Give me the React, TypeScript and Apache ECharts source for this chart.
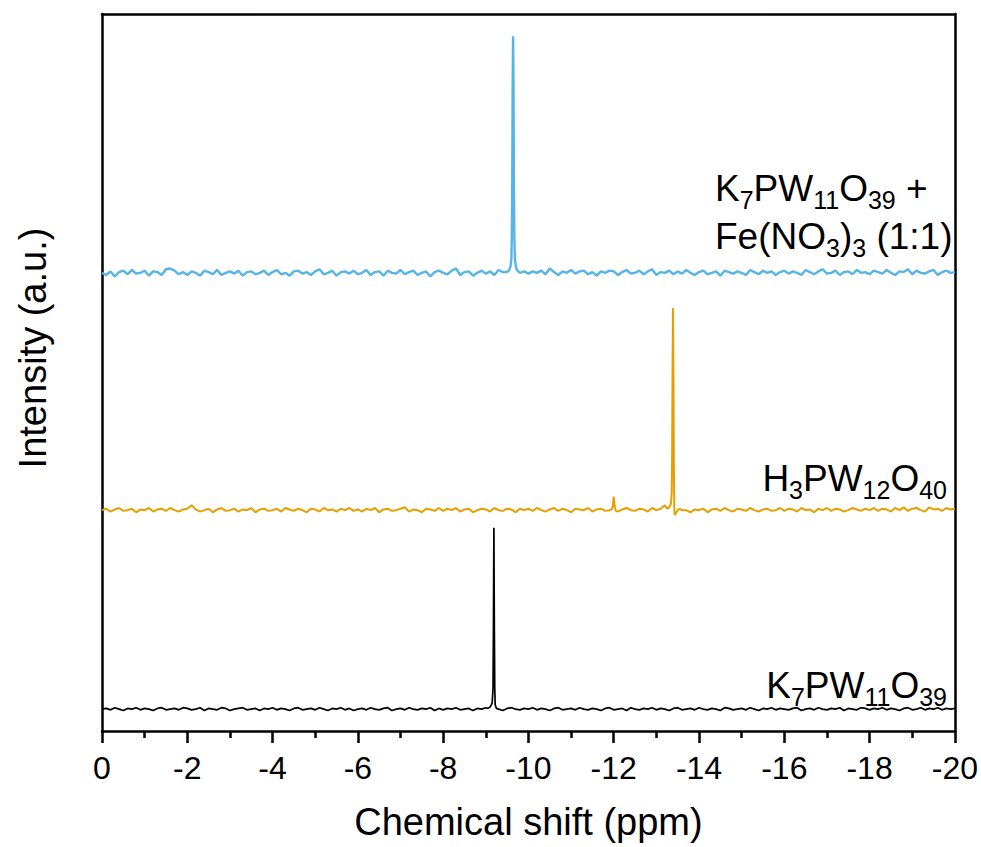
import React, { useEffect, useRef } from 'react';
import * as echarts from 'echarts';

// ---------- data ----------
const ppmStep = 0.1; // baseline sampling: 0 .. -20 ppm, 201 points
const xTicks = [0, -2, -4, -6, -8, -10, -12, -14, -16, -18, -20];

const blueNoise = [
  0.0, -0.3, 0.2, -0.5, 0.1, 0.3, -0.2, 0.4, -0.1, 0.0, 0.3, -0.4, 0.2, 0.1, -0.3, 0.5, 0.6, 0.3, -0.2, 0.1,
  -0.3, 0.2, 0.0, -0.4, 0.3, 0.1, -0.2, 0.4, -0.3, 0.0, 0.2, -0.1, 0.3, -0.4, 0.1, 0.2, -0.2, 0.0, 0.3, -0.3,
  0.1, 0.4, -0.2, 0.0, -0.4, 0.2, 0.3, -0.1, 0.1, -0.3, 0.2, 0.5, -0.2, 0.0, 0.3, -0.4, 0.1, 0.2, -0.1, 0.3,
  -0.2, 0.0, 0.4, -0.3, 0.1, 0.2, -0.4, 0.3, 0.0, -0.1, 0.4, -0.2, 0.1, 0.3, -0.3, 0.0, 0.2, -0.5, 0.1, 0.3,
  0.0, -0.2, 0.3, 0.6, -0.3, 0.1, 0.2, -0.4, 0.0, 0.3, -0.1, 0.2, -0.3, 0.4, 0.1, 0.3, 0.2, 0.1, 0.0, 0.2,
  -0.1, 0.2, 0.0, 0.3, -0.2, 0.6, 0.1, -0.3, 0.2, 0.0, 0.4, -0.1, 0.2, 0.3, -0.2, 0.1, -0.4, 0.2, 0.0, 0.3,
  0.2, -0.3, 0.1, 0.4, -0.1, 0.0, 0.3, -0.2, 0.2, 0.5, -0.3, 0.1, 0.0, 0.3, -0.2, 0.2, -0.1, 0.4, 0.0, -0.3,
  0.1, 0.3, -0.2, 0.0, 0.2, -0.4, 0.3, 0.1, -0.1, 0.2, 0.0, -0.3, 0.4, 0.1, -0.2, 0.3, 0.0, 0.2, -0.3, 0.1,
  0.3, -0.1, 0.2, 0.0, -0.3, 0.4, 0.1, -0.2, 0.2, 0.5, -0.1, 0.0, 0.3, -0.3, 0.1, 0.2, -0.2, 0.4, 0.0, 0.1,
  -0.2, 0.3, 0.1, -0.1, 0.4, 0.0, -0.3, 0.2, 0.1, 0.5, -0.2, 0.3, 0.0, -0.1, 0.2, 0.4, -0.3, 0.1, 0.3, 0.0,
  0.1,
];
const orangeNoise = [
  0.0, 0.2, -0.2, 0.1, 0.3, -0.1, 0.0, 0.2, -0.3, 0.1, 0.0, 0.3, -0.2, 0.1, 0.2, -0.1, 0.3, 0.0, -0.2, 0.1,
  0.2, 0.7, 0.1, -0.2, 0.0, 0.2, -0.3, 0.1, 0.3, -0.1, 0.0, 0.2, -0.2, 0.1, 0.0, 0.3, -0.3, 0.1, 0.2, -0.1,
  0.0, 0.2, -0.2, 0.3, 0.1, -0.1, 0.2, 0.0, -0.3, 0.2, 0.1, -0.2, 0.3, 0.0, 0.1, -0.2, 0.2, 0.0, 0.3, -0.1,
  0.1, -0.2, 0.2, 0.0, 0.3, -0.3, 0.1, 0.2, -0.1, 0.0, 0.2, 0.4, -0.2, 0.1, 0.0, -0.3, 0.2, 0.1, -0.1, 0.3,
  -0.1, 0.2, 0.0, 0.3, -0.2, 0.1, 0.2, -0.3, 0.0, 0.2, 0.1, -0.2, 0.3, 0.0, -0.1, 0.2, 0.1, -0.3, 0.2, 0.0,
  0.2, -0.1, 0.3, 0.0, -0.2, 0.1, 0.3, -0.1, 0.2, 0.0, -0.3, 0.2, 0.1, 0.0, 0.3, -0.2, 0.1, 0.2, -0.1, 0.0,
  0.2, -0.2, 0.1, 0.3, 0.0, -0.1, 0.2, 0.1, -0.2, 0.3, 0.0, 0.2, 0.7, 0.3, 0.0, 0.0, 0.0, 0.0, -0.3, 0.1,
  0.0, 0.2, -0.3, 0.1, 0.2, -0.1, 0.3, 0.0, -0.2, 0.2, 0.1, -0.1, 0.3, 0.0, -0.2, 0.1, 0.2, -0.1, 0.0, 0.3,
  -0.1, 0.2, 0.1, -0.2, 0.3, 0.0, 0.1, -0.3, 0.2, 0.0, 0.3, -0.1, 0.2, 0.1, -0.2, 0.0, 0.3, 0.1, -0.1, 0.2,
  0.0, 0.3, -0.1, 0.2, 0.1, -0.2, 0.3, 0.0, 0.4, -0.1, 0.2, 0.3, 0.0, -0.2, 0.4, 0.1, 0.2, -0.1, 0.3, 0.1,
  0.2,
];
const blackNoise = [
  0.0, 0.1, -0.1, 0.2, 0.0, -0.2, 0.1, 0.0, 0.2, -0.1, 0.1, 0.0, -0.2, 0.1, 0.2, -0.1, 0.0, 0.1, -0.1, 0.2,
  0.1, -0.1, 0.0, 0.2, -0.2, 0.1, 0.0, -0.1, 0.2, 0.1, -0.2, 0.0, 0.1, 0.2, -0.1, 0.0, 0.1, -0.2, 0.1, 0.0,
  0.2, -0.1, 0.1, 0.0, -0.2, 0.1, 0.2, -0.1, 0.0, 0.1, -0.1, 0.2, 0.0, -0.2, 0.1, 0.0, 0.2, -0.1, 0.1, -0.2,
  0.0, 0.1, -0.1, 0.2, 0.0, -0.1, 0.1, 0.2, -0.2, 0.0, 0.1, -0.1, 0.2, 0.0, -0.1, 0.1, 0.0, 0.2, -0.2, 0.1,
  -0.1, 0.1, 0.0, 0.2, -0.1, 0.0, 0.1, -0.2, 0.1, 0.0, 0.2, -0.1, 0.1, 0.0, -0.2, 0.1, 0.2, 0.0, -0.1, 0.1,
  0.0, 0.2, -0.1, 0.1, 0.0, -0.2, 0.1, 0.2, -0.1, 0.0, 0.1, -0.1, 0.2, 0.0, -0.1, 0.1, 0.0, -0.2, 0.1, 0.2,
  -0.1, 0.0, 0.1, -0.2, 0.2, 0.0, -0.1, 0.1, 0.0, 0.2, -0.1, 0.1, 0.0, -0.2, 0.1, 0.2, -0.1, 0.0, 0.1, -0.1,
  0.2, 0.0, -0.1, 0.1, 0.0, -0.2, 0.2, 0.1, -0.1, 0.0, 0.1, -0.1, 0.2, 0.0, -0.2, 0.1, 0.0, 0.2, -0.1, 0.1,
  0.0, -0.1, 0.1, 0.2, -0.2, 0.0, 0.1, -0.1, 0.2, 0.0, -0.1, 0.1, 0.0, 0.2, -0.2, 0.1, 0.0, -0.1, 0.2, 0.1,
  -0.1, 0.1, 0.0, 0.2, -0.1, 0.1, 0.0, -0.2, 0.1, 0.2, -0.1, 0.0, 0.2, -0.1, 0.1, 0.0, 0.2, -0.1, 0.1, 0.0,
  0.1,
];

// peak clusters (ppm, intensity above baseline)
const bluePeakPpm = [-9.5, -9.55, -9.58, -9.6, -9.61, -9.62, -9.63, -9.64, -9.65, -9.66, -9.67, -9.68, -9.7, -9.73, -9.78];
const bluePeakInt = [0.1, 0.4, 0.9, 2.0, 5, 12, 26, 33, 26, 12, 5, 2.2, 1.0, 0.4, 0.1];

const orangeMinorPpm = [-11.95, -11.98, -12.0, -12.02, -12.05];
const orangeMinorInt = [0.1, 0.6, 1.9, 0.6, -0.1];
const orangePeakPpm = [-13.25, -13.3, -13.34, -13.36, -13.37, -13.38, -13.39, -13.4, -13.41, -13.42, -13.43, -13.45, -13.5, -13.55];
const orangePeakInt = [0.2, 0.4, 0.9, 2.5, 8, 20, 28.2, 20, 6, 0.5, -0.7, -0.5, 0.0, 0.2];

const blackPeakPpm = [-9.05, -9.1, -9.13, -9.15, -9.17, -9.18, -9.19, -9.2, -9.21, -9.22, -9.25, -9.3];
const blackPeakInt = [0.1, 0.3, 0.6, 0.9, 3, 12, 25.3, 12, 3, 0.6, 0.1, 0.0];

// vertical offsets of stacked spectra
const blueOffset = 63.9;
const orangeOffset = 30.8;
const blackOffset = 3.05;

const seriesNames = ['K7PW11O39', 'H3PW12O40', 'K7PW11O39 + Fe(NO3)3 (1:1)'];

// ---------- helpers ----------
function buildTrace(noise: number[], clusters: [number[], number[]][], offset: number) {
  const pts: [number, number][] = [];
  noise.forEach((v, i) => {
    const ppm = -i * ppmStep;
    const inside = clusters.some(([p]) => ppm <= Math.max(...p) && ppm >= Math.min(...p));
    if (!inside) pts.push([ppm, v]);
  });
  clusters.forEach(([p, y]) => p.forEach((pp, k) => pts.push([pp, y[k]])));
  pts.sort((a, b) => b[0] - a[0]);
  return pts.map(([x, y]) => [x, +(y + offset).toFixed(3)]);
}

const FONT = '"Liberation Sans", Arial, Helvetica, sans-serif';

export default function App() {
  const ref = useRef<HTMLDivElement>(null);
  useEffect(() => {
    if (!ref.current) return;
    const chart = echarts.init(ref.current, null, { renderer: 'svg' });
    const black = buildTrace(blackNoise, [[blackPeakPpm, blackPeakInt]], blackOffset);
    const orange = buildTrace(orangeNoise, [[orangeMinorPpm, orangeMinorInt], [orangePeakPpm, orangePeakInt]], orangeOffset);
    const blue = buildTrace(blueNoise, [[bluePeakPpm, bluePeakInt]], blueOffset);

    const axisLine = { show: true, onZero: false, lineStyle: { color: '#000', width: 2.5 } };
    const main = { fontSize: 37, fontFamily: FONT, fill: '#000', lineHeight: 48 };
    const sub = { fontSize: 25, fontFamily: FONT, fill: '#000', lineHeight: 20, verticalAlign: 'bottom' };

    chart.setOption({
      animation: false,
      backgroundColor: '#fff',
      grid: { left: 102, right: 26, top: 14, bottom: 116, containLabel: false },
      xAxis: [
        {
          type: 'value',
          min: -20,
          max: 0,
          interval: 2,
          inverse: true,
          position: 'bottom',
          name: 'Chemical shift (ppm)',
          nameLocation: 'middle',
          nameGap: 72,
          nameTextStyle: { fontSize: 38, fontFamily: FONT, color: '#000' },
          axisLine,
          axisTick: { show: true, inside: false, length: 12, lineStyle: { color: '#000', width: 2.5 } },
          minorTick: { show: true, splitNumber: 2, length: 7, lineStyle: { color: '#000', width: 2.5 } },
          axisLabel: { fontSize: 32, fontFamily: FONT, color: '#000', margin: 21, formatter: (v: number) => (xTicks.includes(v) ? String(v) : '') },
          splitLine: { show: false },
        },
        {
          type: 'value',
          min: -20,
          max: 0,
          inverse: true,
          position: 'top',
          axisLine,
          axisTick: { show: false },
          axisLabel: { show: false },
          splitLine: { show: false },
        },
      ],
      yAxis: [
        {
          type: 'value',
          min: 0,
          max: 100,
          position: 'left',
          axisLine,
          axisTick: { show: false },
          axisLabel: { show: false },
          splitLine: { show: false },
        },
        {
          type: 'value',
          min: 0,
          max: 100,
          position: 'right',
          axisLine,
          axisTick: { show: false },
          axisLabel: { show: false },
          splitLine: { show: false },
        },
      ],
      series: [
        { name: seriesNames[0], type: 'line', data: black, showSymbol: false, symbol: 'none', lineStyle: { color: '#000000', width: 1.7 }, z: 3 },
        { name: seriesNames[1], type: 'line', data: orange, showSymbol: false, symbol: 'none', lineStyle: { color: '#E69F00', width: 2 }, z: 3 },
        { name: seriesNames[2], type: 'line', data: blue, showSymbol: false, symbol: 'none', lineStyle: { color: '#56B4E9', width: 2.4 }, z: 3 },
      ],
      graphic: [
        {
          type: 'text',
          x: 33,
          y: 348,
          rotation: Math.PI / 2,
          style: { text: 'Intensity (a.u.)', fontSize: 38, fontFamily: FONT, fill: '#000', align: 'center', verticalAlign: 'middle' },
        },
        {
          type: 'text',
          x: 715,
          y: 164,
          style: {
            text: '{m|K}{s|7}{m|PW}{s|11}{m|O}{s|39}{m| +}\n{m|Fe(NO}{s|3}{m|)}{s|3}{m| (1:1)}',
            align: 'left',
            verticalAlign: 'top',
            rich: { m: main, s: sub },
          },
        },
        {
          type: 'text',
          x: 947,
          y: 454,
          style: {
            text: '{m|H}{s|3}{m|PW}{s|12}{m|O}{s|40}',
            align: 'right',
            verticalAlign: 'top',
            rich: { m: main, s: sub },
          },
        },
        {
          type: 'text',
          x: 947,
          y: 661,
          style: {
            text: '{m|K}{s|7}{m|PW}{s|11}{m|O}{s|39}',
            align: 'right',
            verticalAlign: 'top',
            rich: { m: main, s: sub },
          },
        },
      ],
    });
    return () => chart.dispose();
  }, []);
  return <div ref={ref} style={{ position: 'fixed', left: 0, top: 0, width: 981, height: 847 }} />;
}
